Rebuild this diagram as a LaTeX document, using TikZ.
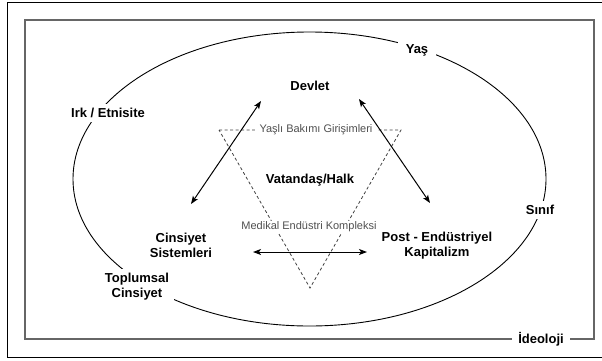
\documentclass[tikz,border=0pt]{standalone}
\usepackage{fontspec}
\setmainfont{Liberation Sans}
\usetikzlibrary{arrows.meta}
\definecolor{grtxt}{HTML}{505050}
\definecolor{dashc}{HTML}{404040}
\definecolor{frame}{HTML}{666666}
\tikzset{
  lbl/.style={font=\fontsize{13}{15}\selectfont\bfseries, align=center, text=black, inner sep=0pt},
  onlbl/.style={lbl, fill=white, inner xsep=5pt, inner ysep=4pt},
  glbl/.style={font=\fontsize{11}{13}\selectfont, text=grtxt, fill=white, inner xsep=5pt, inner ysep=1pt},
  dtri/.style={draw=dashc, dash pattern=on 3pt off 2.5pt, line width=0.8pt},
  arr/.style={line width=1pt, {Stealth[length=8pt,width=6pt,inset=2pt]}-{Stealth[length=8pt,width=6pt,inset=2pt]}},
}
\begin{document}
\begin{tikzpicture}[x=1pt,y=-1pt]
\useasboundingbox (0,0) rectangle (602,360);
% outer frame
\draw[black, line width=1pt] (7,2) rectangle (604,357);
% inner frame
\draw[frame, line width=1.4pt] (25,20) rectangle (594,339);
\node[onlbl, inner xsep=6pt] (ideo) at (541,339) {İdeoloji};
% ellipse
\draw[black, line width=0.9pt] (309.5,179) ellipse [x radius=236.5pt, y radius=147pt];
\node[onlbl, inner xsep=8pt] (yas) at (417,50) {Yaş};
\node[onlbl] (irk) at (108,113) {Irk / Etnisite};
\node[onlbl] (sinif) at (540,210) {Sınıf};
\node[onlbl] (toplum) at (137,287) {Toplumsal\\Cinsiyet};
% dashed triangle
\coordinate (tl) at (219,130);
\coordinate (tr) at (401,130);
\coordinate (tb) at (310,288);
\draw[dtri] (tl) -- (tr) -- (tb) -- cycle;
\node[glbl] (yasli) at (316,130) {Yaşlı Bakımı Girişimleri};
\node[glbl, inner xsep=1pt] (medikal) at (309,227) {Medikal Endüstri Kompleksi};
% main labels
\node[lbl] (devlet) at (310,86) {Devlet};
\node[lbl] (vatandas) at (310,180) {Vatandaş/Halk};
\node[lbl] (cinsiyet) at (181,245.5) {Cinsiyet\\Sistemleri};
\node[lbl] (post) at (437,245.5) {Post - Endüstriyel\\Kapitalizm};
% arrow ends
\coordinate (dl) at (261,101);
\coordinate (cl) at (191,204);
\coordinate (dr) at (359,99);
\coordinate (pr) at (430,203);
\coordinate (hl) at (253,252);
\coordinate (hr) at (367,252);
\draw[arr] (dl) -- (cl);
\draw[arr] (dr) -- (pr);
\draw[arr] (hl) -- (hr);
\end{tikzpicture}
\end{document}
